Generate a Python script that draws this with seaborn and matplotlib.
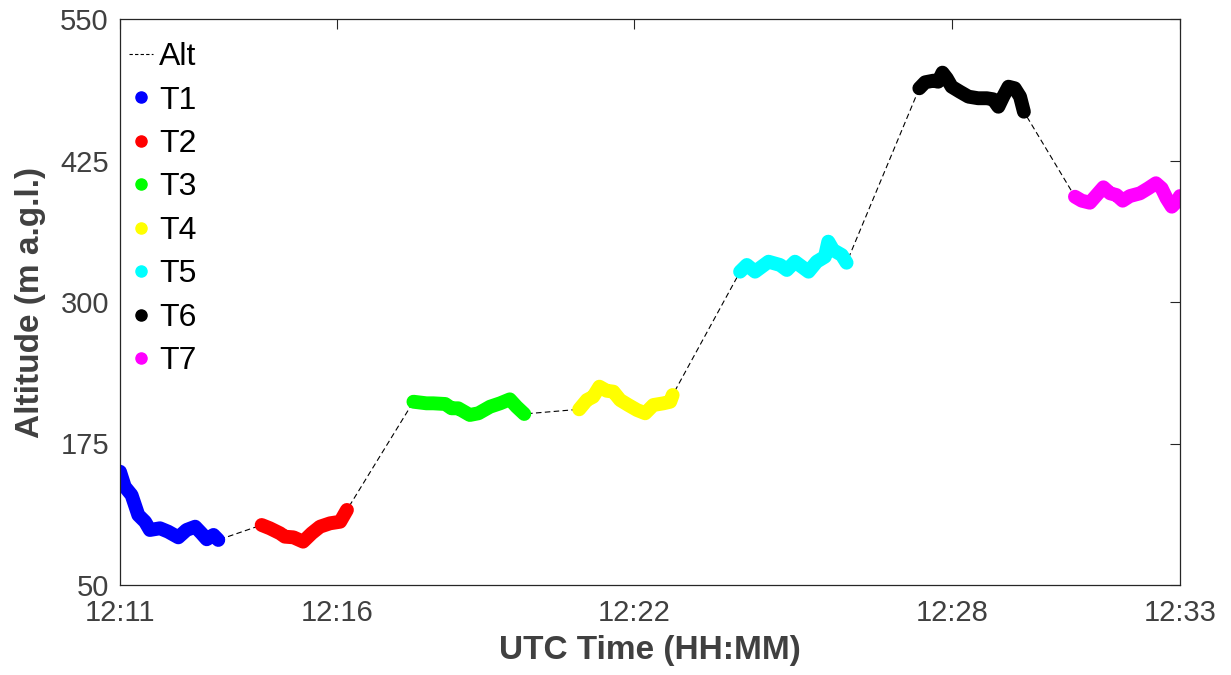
import matplotlib
matplotlib.use("Agg")
import matplotlib.pyplot as plt
from matplotlib.lines import Line2D
import numpy as np
import pandas as pd
import seaborn as sns

# ---- data: time in minutes after 12:11 UTC, altitude in m a.g.l. ----
T1_t = [0.00, 0.10, 0.24, 0.38, 0.52, 0.62, 0.83, 1.00, 1.21, 1.38, 1.56, 1.69, 1.80, 1.94, 2.04]
T1_alt = [150.1, 136.8, 129.5, 111.8, 105.9, 98.6, 100.1, 97.1, 92.1, 98.6, 101.5, 95.7, 90.4, 94.2, 89.8]

T2_t = [2.94, 3.11, 3.32, 3.42, 3.60, 3.80, 3.98, 4.15, 4.36, 4.57, 4.71]
T2_alt = [103.0, 100.1, 95.7, 92.7, 92.1, 88.3, 95.7, 101.5, 104.5, 105.9, 116.3]

T3_t = [6.09, 6.36, 6.50, 6.75, 6.88, 7.02, 7.26, 7.44, 7.68, 7.89, 8.09, 8.23, 8.39]
T3_alt = [211.9, 210.5, 210.5, 209.9, 206.1, 206.1, 200.2, 201.7, 207.5, 210.5, 214.0, 207.5, 201.1]

T4_t = [9.53, 9.69, 9.82, 9.95, 10.10, 10.24, 10.38, 10.55, 10.73, 10.90, 11.07, 11.28, 11.42, 11.47]
T4_alt = [205.2, 213.4, 216.3, 225.2, 221.6, 220.8, 213.4, 209.0, 204.6, 201.7, 209.0, 210.5, 211.9, 217.8]

T5_t = [12.87, 13.01, 13.18, 13.46, 13.70, 13.84, 14.01, 14.29, 14.46, 14.63, 14.70, 14.80, 14.98, 15.08]
T5_alt = [326.8, 332.7, 326.8, 335.6, 332.7, 328.3, 335.6, 326.8, 335.6, 340.0, 353.3, 345.9, 341.5, 334.7]

T6_t = [16.59, 16.71, 16.88, 16.98, 17.07, 17.16, 17.26, 17.43, 17.61, 17.81, 17.99, 18.12, 18.23, 18.33, 18.44, 18.57, 18.68, 18.76]
T6_alt = [488.8, 494.1, 495.5, 494.6, 502.6, 497.6, 490.2, 485.8, 481.4, 480.0, 480.0, 479.1, 472.5, 481.4, 490.2, 488.8, 481.4, 468.1]

T7_t = [19.82, 19.96, 20.13, 20.27, 20.41, 20.55, 20.68, 20.81, 20.96, 21.17, 21.34, 21.50, 21.62, 21.72, 21.83, 21.93, 22.00]
T7_alt = [393.0, 389.5, 387.7, 394.5, 401.3, 396.0, 394.5, 389.5, 393.6, 396.0, 400.4, 404.9, 400.4, 391.6, 384.2, 388.6, 393.6]

seg_names = ["T1", "T2", "T3", "T4", "T5", "T6", "T7"]
seg_colors = ["#0000ff", "#ff0000", "#00ff00", "#ffff00", "#00ffff", "#000000", "#ff00ff"]

x_tick_pos = [0.0, 4.50, 10.67, 17.27, 22.0]
x_tick_labels = ["12:11", "12:16", "12:22", "12:28", "12:33"]
y_ticks = [50, 175, 300, 425, 550]

# ---- build table ----
seg_t = [T1_t, T2_t, T3_t, T4_t, T5_t, T6_t, T7_t]
seg_a = [T1_alt, T2_alt, T3_alt, T4_alt, T5_alt, T6_alt, T7_alt]
rows = []
for name, ts, als in zip(seg_names, seg_t, seg_a):
    for t, a in zip(ts, als):
        rows.append({"time": t, "alt": a, "seg": name})
df = pd.DataFrame(rows)

sns.set_theme(style="white")
plt.rcParams["font.family"] = ["Liberation Sans", "DejaVu Sans"]

fig = plt.figure(figsize=(12.31, 6.75), dpi=100)
ax = fig.add_axes([120 / 1231, 1 - 585 / 675, (1180 - 120) / 1231, (585 - 19) / 675])

# full altitude trace (dashed)
sns.lineplot(data=df, x="time", y="alt", sort=False, estimator=None, ax=ax,
             color="black", linewidth=0.8, linestyle=(0, (5, 3)), legend=False, zorder=1)

# coloured segments
sns.lineplot(data=df, x="time", y="alt", hue="seg", hue_order=seg_names,
             palette=dict(zip(seg_names, seg_colors)), units="seg", sort=False,
             estimator=None, ax=ax, linewidth=10, legend=False, zorder=2,
             solid_capstyle="round", solid_joinstyle="round")

ax.set_xlim(0, 22)
ax.set_ylim(50, 550)
ax.set_xticks(x_tick_pos)
ax.set_xticklabels(x_tick_labels)
ax.set_yticks(y_ticks)
ax.set_yticklabels([str(v) for v in y_ticks])

axc = "#262626"
for s in ax.spines.values():
    s.set_visible(True)
    s.set_color(axc)
    s.set_linewidth(0.9)
ax.tick_params(axis="both", which="both", direction="in", length=7, width=0.8,
               color=axc, labelcolor="#404040", labelsize=21,
               top=True, right=True)
ax.tick_params(axis="x", pad=10)
ax.tick_params(axis="y", pad=8)
ax.set_xlabel("UTC Time (HH:MM)", fontsize=24, fontweight="bold", color="#404040", labelpad=6)
ax.set_ylabel("Altitude (m a.g.l.)", fontsize=24, fontweight="bold", color="#404040", labelpad=10)

handles = [Line2D([], [], color="black", linestyle=(0, (3, 2)), linewidth=0.8)]
for c in seg_colors:
    handles.append(Line2D([], [], marker="o", linestyle="", color=c, markersize=8))
leg = ax.legend(handles, ["Alt"] + seg_names, loc="upper left",
                bbox_to_anchor=(-0.008, 0.99), frameon=False,
                fontsize=23, handlelength=0.75, handletextpad=0.2,
                labelspacing=0.42, borderaxespad=0.2, borderpad=0.35)
for t in leg.get_texts():
    t.set_color("black")

fig.savefig("out.png", dpi=100)
